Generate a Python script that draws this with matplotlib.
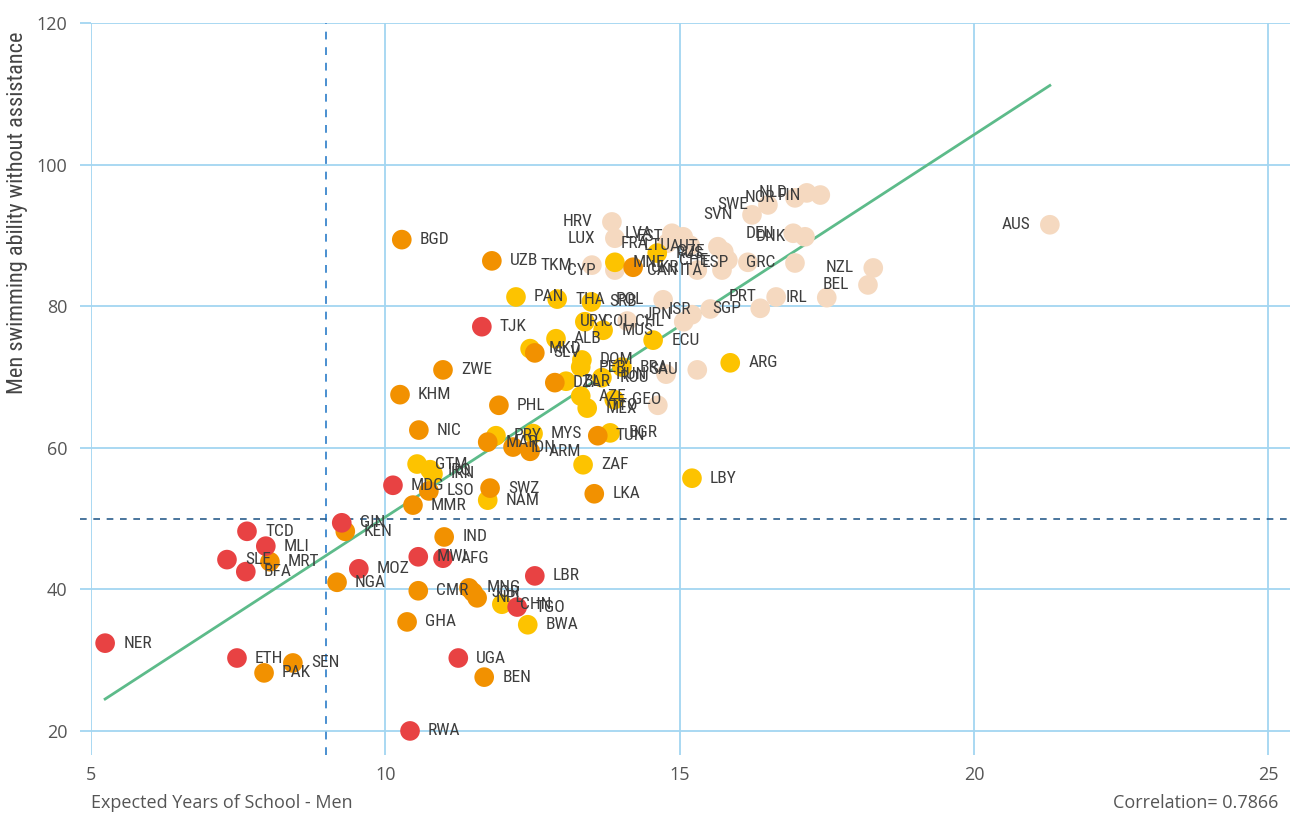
import matplotlib
matplotlib.use("Agg")
import matplotlib.pyplot as plt
import matplotlib.transforms as mtransforms
from matplotlib import font_manager
from matplotlib.font_manager import FontProperties
import numpy as np

# ---------------- data ----------------
countries = ["NER","ETH","PAK","SEN","TCD","MLI","SLE","MRT","BFA","GIN",
             "KEN","MOZ","NGA","MWI","AFG","IND","CMR","GHA","MNG","JOR",
             "NPL","CHN","TGO","BWA","UGA","BEN","RWA","LBR","MDG","GTM",
             "IRQ","IRN","LSO","MMR","NIC","KHM","ZWE","PHL","BGD","UZB",
             "TJK","SWZ","NAM","PRY","MAR","IDN","ARM","MYS","TUN","BGR",
             "ZAF","LKA","LBY","ARG","ALB","MKD","SLV","DOM","PER","COL",
             "MUS","ECU","PAN","THA","SRB","POL","URY","CHL","JPN","ISR",
             "DZA","BLR","ROU","BRA","HUN","SAU","AZE","MEX","GEO","TTO",
             "HRV","LUX","TKM","CYP","MNE","UKR","RUS","LVA","EST","FRA",
             "LTU","AUT","CZE","CHE","ESP","ITA","CAN","DEU","DNK","GRC",
             "PRT","IRL","SGP","NZL","BEL","AUS","SVN","SWE","NOR","NLD",
             "FIN"]
years_school = [5.24,7.48,7.94,8.43,7.65,7.97,7.31,8.04,7.63,9.26,
                9.32,9.55,9.18,10.56,10.98,11.00,10.56,10.37,11.42,11.49,
                11.56,11.98,12.24,12.42,11.24,11.68,10.42,12.54,10.13,10.54,
                10.76,10.81,10.74,10.47,10.57,10.25,10.98,11.93,10.28,11.81,
                11.64,11.78,11.74,11.88,11.74,12.17,12.46,12.51,13.61,13.82,
                13.36,13.55,15.21,15.86,12.90,12.46,12.54,13.34,13.32,13.39,
                13.70,14.55,12.22,12.92,13.50,14.72,14.11,15.07,15.21,15.52,
                12.88,13.07,13.68,14.02,14.77,15.30,13.32,13.43,13.89,14.63,
                13.85,13.90,13.51,13.90,13.90,14.21,14.62,14.87,15.06,14.79,
                15.18,15.65,15.75,15.82,16.16,15.72,15.30,16.93,17.13,16.96,
                16.64,17.50,16.37,18.29,18.20,21.29,16.23,16.50,16.96,17.16,
                17.39]
swim_ability = [32.4,30.3,28.2,29.6,48.2,46.1,44.2,43.9,42.5,49.4,
                48.2,42.9,41.0,44.6,44.4,47.4,39.8,35.4,40.2,39.6,
                38.8,37.9,37.5,35.0,30.3,27.6,20.0,41.9,54.7,57.7,
                56.9,56.3,53.9,51.9,62.5,67.5,71.0,66.0,89.4,86.4,
                77.1,54.3,52.6,61.7,60.8,60.1,59.5,62.0,61.7,62.1,
                57.6,53.5,55.7,72.0,75.4,74.0,73.4,72.4,71.4,77.8,
                76.6,75.2,81.3,81.0,80.6,80.9,77.9,77.8,78.8,79.6,
                69.2,69.4,69.9,71.4,70.4,71.0,67.3,65.6,66.8,66.0,
                91.9,89.6,85.8,85.1,86.2,85.5,87.5,90.3,89.8,88.9,
                88.6,88.4,87.7,86.5,86.2,85.1,85.1,90.3,89.8,86.1,
                81.3,81.2,79.7,85.4,83.0,91.5,92.9,94.3,95.3,96.0,
                95.7]
# L = low, LM = lower-middle, UM = upper-middle, H = high
group = ["L","L","LM","LM","L","L","L","LM","L","L",
         "LM","L","LM","L","L","LM","LM","LM","LM","LM",
         "LM","UM","L","UM","L","LM","L","L","L","UM",
         "UM","UM","LM","LM","LM","LM","LM","LM","LM","LM",
         "L","LM","UM","UM","LM","LM","LM","UM","LM","UM",
         "UM","LM","UM","UM","UM","UM","LM","UM","UM","UM",
         "UM","UM","UM","UM","UM","H","H","H","H","H",
         "LM","UM","UM","UM","H","H","UM","UM","UM","H",
         "H","H","H","H","UM","LM","UM","H","H","H",
         "H","H","H","H","H","H","H","H","H","H",
         "H","H","H","H","H","H","H","H","H","H",
         "H"]
x_ticks = [5, 10, 15, 20, 25]
y_ticks = [20, 40, 60, 80, 100, 120]
x_threshold = 9
y_threshold = 50
trend_slope = 5.40
trend_intercept = -3.79
correlation = 0.7866

# ---------------- style ----------------
colors = {"L": "#e84243", "LM": "#f29100", "UM": "#fdc300", "H": "#f5d9c0"}
draw_order = ["H", "UM", "LM", "L"]


def find_condensed():
    fl = font_manager.fontManager.ttflist
    prefs = ["LiberationSansNarrow-Regular", "RobotoCondensed-Regular",
             "Roboto_Condensed-Regular", "OpenSans_Condensed-Regular",
             "OpenSansCondensed", "DejaVuSansCondensed.ttf", "Narrow", "Condensed"]
    for p in prefs:
        for f in fl:
            fn = f.fname.split("/")[-1]
            if p in fn and "Bold" not in fn and "Italic" not in fn and "Oblique" not in fn:
                return FontProperties(fname=f.fname)
    return FontProperties(family="DejaVu Sans")


cond_fp = find_condensed()
names = {f.name for f in font_manager.fontManager.ttflist}
regular = "Open Sans" if "Open Sans" in names else "DejaVu Sans"

grid_c = "#a3d6f1"
W, H = 1297, 817
fig = plt.figure(figsize=(W / 100, H / 100), dpi=100)
ax = fig.add_axes([91 / W, 1 - 755 / H, (1290 - 91) / W, (755 - 23) / H])
ax.set_xlim(5, 25.37)
ax.set_ylim(16.6, 120)
for s in ax.spines.values():
    s.set_visible(False)

ax.set_xticks(x_ticks)
ax.set_yticks(y_ticks)
ax.grid(True, color=grid_c, linewidth=1.3, zorder=0)
ax.set_axisbelow(True)
ax.tick_params(axis="y", length=8, width=1.3, color=grid_c, pad=9,
               labelsize=13, labelcolor="#555555")
ax.tick_params(axis="x", length=0, pad=8, labelsize=13, labelcolor="#555555")
for lab in ax.get_xticklabels() + ax.get_yticklabels():
    lab.set_fontfamily(regular)

# threshold lines
ax.axvline(x_threshold, color="#4a8fd0", linewidth=1.4, linestyle=(0, (4, 4)), zorder=1)
trans = mtransforms.blended_transform_factory(ax.transAxes, ax.transData)
ax.plot([-0.009, 1], [y_threshold, y_threshold], transform=trans, color="#2a5d8c",
        linewidth=1.2, linestyle=(0, (4, 4)), clip_on=False, zorder=1)

# trend line
xs = np.array(years_school)
ys = np.array(swim_ability)
tx = np.array([xs.min(), xs.max()])
ax.plot(tx, trend_slope * tx + trend_intercept, color="#5dbb8a", linewidth=2, zorder=2)

# points
grp = np.array(group)
for g in draw_order:
    m = grp == g
    ax.scatter(xs[m], ys[m], s=200, color=colors[g], edgecolors="none", zorder=3)

# labels
lab_fp = cond_fp.copy()
lab_fp.set_size(12.5)
for c, x, y, g in zip(countries, years_school, swim_ability, group):
    if g == "H":
        ax.annotate(c, (x, y), xytext=(-14, 0), textcoords="offset points",
                    ha="right", va="center", fontproperties=lab_fp,
                    color="#3d3d3d", zorder=4)
    else:
        ax.annotate(c, (x, y), xytext=(13, 0), textcoords="offset points",
                    ha="left", va="center", fontproperties=lab_fp,
                    color="#3d3d3d", zorder=4)

fig.text(91 / W, 1 - 803 / H, "Expected Years of School - Men", fontsize=13,
         family=regular, color="#555555", ha="left", va="center")
fig.text(1278 / W, 1 - 803 / H, f"Correlation= {correlation}", fontsize=13,
         family=regular, color="#555555", ha="right", va="center")
ylab_fp = cond_fp.copy()
ylab_fp.set_size(16)
fig.text(18 / W, 1 - 213 / H, "Men swimming ability without assistance",
         fontproperties=ylab_fp, color="#444444", ha="center", va="center", rotation=90)

fig.savefig("out.png", dpi=100)
